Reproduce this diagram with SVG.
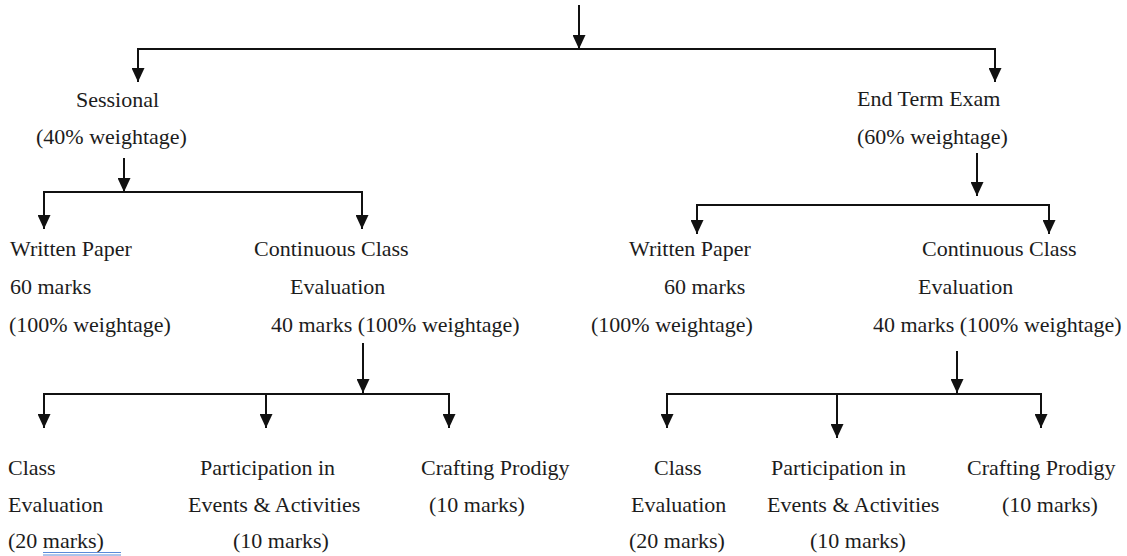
<svg xmlns="http://www.w3.org/2000/svg" width="1127" height="556" viewBox="0 0 1127 556">
<style>
  .t { font-family: "Liberation Serif", "Times New Roman", serif; font-size: 22px; fill: #1c1c1c; }
  .c line { stroke: #111; stroke-width: 2; fill: none; }
  .a { marker-end: url(#arr); }
</style>
<defs>
  <marker id="arr" viewBox="0 0 14 13" refX="14" refY="6.5" markerWidth="14" markerHeight="13" markerUnits="userSpaceOnUse" orient="auto">
    <path d="M0,0 L14,6.5 L0,13 z" fill="#111"/>
  </marker>
</defs>
<rect width="1127" height="556" fill="#fff"/>
<g id="connectors" class="c">
  <line class="a" x1="579" y1="5" x2="579" y2="49"/>
  <line x1="137" y1="49" x2="996" y2="49"/>
  <line class="a" x1="138" y1="49" x2="138" y2="82"/>
  <line class="a" x1="995" y1="49" x2="995" y2="82"/>

  <line class="a" x1="124" y1="158" x2="124" y2="192"/>
  <line x1="43" y1="192" x2="363" y2="192"/>
  <line class="a" x1="44" y1="192" x2="44" y2="229"/>
  <line class="a" x1="362" y1="192" x2="362" y2="229"/>

  <line class="a" x1="977" y1="153" x2="977" y2="196"/>
  <line x1="696" y1="205" x2="1050" y2="205"/>
  <line class="a" x1="697" y1="205" x2="697" y2="234"/>
  <line class="a" x1="1049" y1="205" x2="1049" y2="234"/>

  <line class="a" x1="363" y1="343" x2="363" y2="393"/>
  <line x1="43" y1="394" x2="450" y2="394"/>
  <line class="a" x1="44" y1="394" x2="44" y2="428"/>
  <line class="a" x1="266" y1="394" x2="266" y2="428"/>
  <line class="a" x1="449" y1="394" x2="449" y2="428"/>

  <line class="a" x1="957" y1="351" x2="957" y2="393"/>
  <line x1="666" y1="394" x2="1042" y2="394"/>
  <line class="a" x1="667" y1="394" x2="667" y2="428"/>
  <line class="a" x1="837" y1="394" x2="837" y2="438"/>
  <line class="a" x1="1041" y1="394" x2="1041" y2="428"/>
</g>
<g id="sessional" class="t">
  <text x="76" y="107">Sessional</text>
  <text x="36" y="144">(40% weightage)</text>
</g>
<g id="end-term" class="t">
  <text x="857" y="106">End Term Exam</text>
  <text x="857" y="144">(60% weightage)</text>
</g>
<g id="s-written" class="t">
  <text x="10" y="256">Written Paper</text>
  <text x="10" y="294">60 marks</text>
  <text x="9" y="332">(100% weightage)</text>
</g>
<g id="s-cce" class="t">
  <text x="254" y="256">Continuous Class</text>
  <text x="290" y="294">Evaluation</text>
  <text x="271" y="332">40 marks (100% weightage)</text>
</g>
<g id="e-written" class="t">
  <text x="629" y="256">Written Paper</text>
  <text x="664" y="294">60 marks</text>
  <text x="591" y="332">(100% weightage)</text>
</g>
<g id="e-cce" class="t">
  <text x="922" y="256">Continuous Class</text>
  <text x="918" y="294">Evaluation</text>
  <text x="873" y="332">40 marks (100% weightage)</text>
</g>
<g id="s-class-eval" class="t">
  <text x="8" y="475">Class</text>
  <text x="8" y="512">Evaluation</text>
  <text x="8" y="548">(20 marks)</text>
  <line x1="43" y1="552.5" x2="121" y2="552.5" stroke="#5b8bd9" stroke-width="1"/>
  <line x1="43" y1="555" x2="121" y2="555" stroke="#5b8bd9" stroke-width="1"/>
</g>
<g id="s-participation" class="t">
  <text x="200" y="475">Participation in</text>
  <text x="188" y="512">Events &amp; Activities</text>
  <text x="233" y="548">(10 marks)</text>
</g>
<g id="s-crafting" class="t">
  <text x="421" y="475">Crafting Prodigy</text>
  <text x="429" y="512">(10 marks)</text>
</g>
<g id="e-class-eval" class="t">
  <text x="654" y="475">Class</text>
  <text x="631" y="512">Evaluation</text>
  <text x="629" y="548">(20 marks)</text>
</g>
<g id="e-participation" class="t">
  <text x="771" y="475">Participation in</text>
  <text x="767" y="512">Events &amp; Activities</text>
  <text x="810" y="548">(10 marks)</text>
</g>
<g id="e-crafting" class="t">
  <text x="967" y="475">Crafting Prodigy</text>
  <text x="1002" y="512">(10 marks)</text>
</g>
</svg>
